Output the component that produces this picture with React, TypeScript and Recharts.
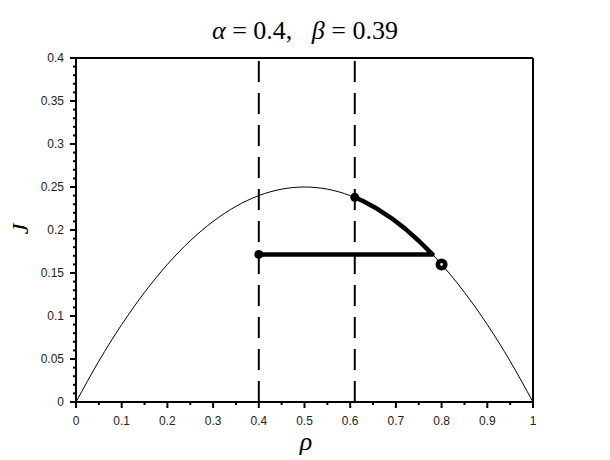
import React from "react";
import {
  ComposedChart,
  Line,
  Scatter,
  XAxis,
  YAxis,
  ReferenceLine,
} from "recharts";

// fundamental diagram J(rho)
const rhoGrid = [0, 0.05, 0.1, 0.15, 0.2, 0.25, 0.3, 0.35, 0.4, 0.45, 0.5, 0.55, 0.6, 0.65, 0.7, 0.75, 0.8, 0.85, 0.9, 0.95, 1];
const jCurve = [0, 0.0475, 0.09, 0.1275, 0.16, 0.1875, 0.21, 0.2275, 0.24, 0.2475, 0.25, 0.2475, 0.24, 0.2275, 0.21, 0.1875, 0.16, 0.1275, 0.09, 0.0475, 0];

// thick path: along the curve from beta side, then flat back to alpha
const pathRho = [0.61, 0.63, 0.66, 0.69, 0.72, 0.75, 0.78, 0.4];
const pathJ = [0.238, 0.2331, 0.2244, 0.2139, 0.2016, 0.1875, 0.1716, 0.1716];

const dotRho = [0.4, 0.61];
const dotJ = [0.1716, 0.238];

const startRho = [0.8];
const startJ = [0.16];

const dashedX = [0.4, 0.61];

const xMajor = [0, 0.1, 0.2, 0.3, 0.4, 0.5, 0.6, 0.7, 0.8, 0.9, 1];
const xLabels = ["0", "0.1", "0.2", "0.3", "0.4", "0.5", "0.6", "0.7", "0.8", "0.9", "1"];
const xMinor = [0.05, 0.15, 0.25, 0.35, 0.45, 0.55, 0.65, 0.75, 0.85, 0.95];

const yMajor = [0, 0.05, 0.1, 0.15, 0.2, 0.25, 0.3, 0.35, 0.4];
const yLabels = ["0", "0.05", "0.1", "0.15", "0.2", "0.25", "0.3", "0.35", "0.4"];
const yMinor = [
  0.01, 0.02, 0.03, 0.04, 0.06, 0.07, 0.08, 0.09, 0.11, 0.12, 0.13, 0.14,
  0.16, 0.17, 0.18, 0.19, 0.21, 0.22, 0.23, 0.24, 0.26, 0.27, 0.28, 0.29,
  0.31, 0.32, 0.33, 0.34, 0.36, 0.37, 0.38, 0.39,
];

const curveData = rhoGrid.map((rho, i) => ({ rho, j: jCurve[i] }));
const pathData = pathRho.map((rho, i) => ({ rho, j: pathJ[i] }));
const dotData = dotRho.map((rho, i) => ({ rho, j: dotJ[i] }));
const startData = startRho.map((rho, i) => ({ rho, j: startJ[i] }));

const tickFont = { fontFamily: "'Liberation Sans', Arial, sans-serif", fontSize: 12, fill: "#222" };

const sameTick = (a: number, b: number) => Math.abs(a - b) < 1e-6;

function XTick(props: any) {
  const { x, y, payload } = props;
  const idx = xMajor.findIndex((t) => sameTick(t, payload.value));
  const major = idx >= 0;
  return (
    <g>
      <line x1={x} x2={x} y1={y} y2={y + (major ? 6 : 3)} stroke="#000" strokeWidth={2} />
      {major && (
        <text x={x} y={y + 23} textAnchor="middle" {...tickFont}>
          {xLabels[idx]}
        </text>
      )}
    </g>
  );
}

function YTick(props: any) {
  const { x, y, payload } = props;
  const idx = yMajor.findIndex((t) => sameTick(t, payload.value));
  const major = idx >= 0;
  return (
    <g>
      <line x1={x} x2={x - (major ? 6 : 3)} y1={y} y2={y} stroke="#000" strokeWidth={2} />
      {major && (
        <text x={x - 12} y={y + 4} textAnchor="end" {...tickFont}>
          {yLabels[idx]}
        </text>
      )}
    </g>
  );
}

const dot = (p: any) => <circle cx={p.cx} cy={p.cy} r={4.5} fill="#000" />;
const startDot = (p: any) => (
  <g>
    <circle cx={p.cx} cy={p.cy} r={6} fill="#000" />
    <circle cx={p.cx} cy={p.cy} r={1.3} fill="#fff" />
  </g>
);

const serif = "'Liberation Serif', 'DejaVu Serif', serif";

export default function App() {
  return (
    <div style={{ position: "absolute", left: 0, top: 0, width: 610, height: 460, background: "#fff" }}>
      <ComposedChart width={610} height={460} margin={{ top: 58, right: 77, bottom: 28, left: 36 }}>
        <XAxis
          dataKey="rho"
          type="number"
          domain={[0, 1]}
          allowDataOverflow
          ticks={[...xMajor, ...xMinor]}
          interval={0}
          height={30}
          tickSize={0}
          tickMargin={0}
          tickLine={false}
          axisLine={{ stroke: "#000", strokeWidth: 2 }}
          tick={<XTick />}
        />
        <YAxis
          type="number"
          domain={[0, 0.4]}
          allowDataOverflow
          ticks={[...yMajor, ...yMinor]}
          interval={0}
          width={40}
          tickSize={0}
          tickMargin={0}
          tickLine={false}
          axisLine={{ stroke: "#000", strokeWidth: 2 }}
          tick={<YTick />}
        />
        <ReferenceLine y={0.4} stroke="#000" strokeWidth={2} />
        <ReferenceLine x={1} stroke="#000" strokeWidth={2} />
        {dashedX.map((v) => (
          <ReferenceLine key={v} x={v} stroke="#000" strokeWidth={2} strokeDasharray="21 11" />
        ))}
        <Line
          data={curveData}
          dataKey="j"
          type="natural"
          stroke="#000"
          strokeWidth={1}
          dot={false}
          activeDot={false}
          isAnimationActive={false}
        />
        <Line
          data={pathData}
          dataKey="j"
          type="linear"
          stroke="#000"
          strokeWidth={4.5}
          strokeLinejoin="round"
          dot={false}
          activeDot={false}
          isAnimationActive={false}
        />
        <Scatter data={dotData} dataKey="j" shape={dot} isAnimationActive={false} />
        <Scatter data={startData} dataKey="j" shape={startDot} isAnimationActive={false} />
      </ComposedChart>
      <svg
        width={610}
        height={460}
        style={{ position: "absolute", left: 0, top: 0, pointerEvents: "none" }}
      >
        <text x={305} y={39} textAnchor="middle" fontFamily={serif} fontSize={26} fill="#000" xmlSpace="preserve">
          <tspan fontStyle="italic">α</tspan>
          <tspan> = 0.4,   </tspan>
          <tspan fontStyle="italic">β</tspan>
          <tspan> = 0.39</tspan>
        </text>
        <text
          x={28}
          y={229}
          textAnchor="middle"
          transform="rotate(-90 28 229)"
          fontFamily={serif}
          fontStyle="italic"
          fontSize={24}
          fill="#000"
        >
          J
        </text>
        <text x={306} y={450} textAnchor="middle" fontFamily={serif} fontStyle="italic" fontSize={26} fill="#000">
          ρ
        </text>
      </svg>
    </div>
  );
}
